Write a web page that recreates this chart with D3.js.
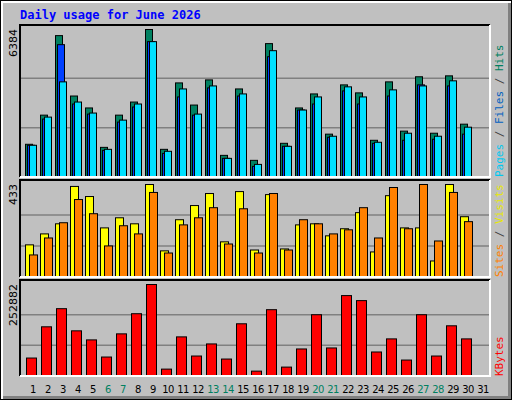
<!DOCTYPE html>
<html>
<head>
<script src="https://cdn.jsdelivr.net/npm/d3@7"></script>
<style>body{margin:0;background:#fff}</style>
</head>
<body>
<script>
var days = d3.range(1, 32);
var weekend = [6, 7, 13, 14, 20, 21, 27, 28];
var hits  = [1433,2690,6120,3515,3000,1300,2690,3255,6384,1215,4080,3125,4210,955,3820,740,5775,1475,3000,3605,1870,3995,3650,1605,4125,2000,4345,1910,4385,2300];
var files = [1390,2520,5730,3170,2735,1170,2390,3040,5860,1040,3475,2690,3865,825,3515,480,5210,1345,2910,3170,1735,3735,3170,1475,3515,1605,3995,1650,3950,1870];
var pages = [1390,2605,4125,3255,2780,1215,2475,3170,5860,1130,3820,2735,3950,825,3605,565,5470,1345,2910,3475,1780,3910,3475,1520,3780,1910,3950,1780,4170,2170];
var visits = [152,203,250,424,377,231,278,250,433,124,269,335,391,166,400,128,386,133,245,250,194,227,302,119,381,231,231,77,433,283];
var sites  = [105,184,255,363,297,147,241,203,396,114,245,278,325,156,320,114,391,128,269,250,203,222,325,184,419,227,433,170,396,260];
var kbytes = [50760,136590,186430,125520,100600,53530,117210,172590,252882,20300,108900,56300,89520,47990,144900,14770,183660,25840,75680,169820,78450,222420,208580,67370,103370,45220,169820,56300,139360,103370];

var W = 512, H = 400;
var svg = d3.select('body').append('svg').attr('width', W).attr('height', H)
  .style('font-family', 'DejaVu Sans Mono, monospace');

// frame
svg.append('rect').attr('x', 0).attr('y', 0).attr('width', W).attr('height', H).attr('fill', '#000');
svg.append('rect').attr('x', 1).attr('y', 1).attr('width', W - 2).attr('height', H - 2).attr('fill', '#fff');
svg.append('rect').attr('x', 3).attr('y', 3).attr('width', W - 4).attr('height', H - 4).attr('fill', '#808080');
svg.append('rect').attr('x', 3).attr('y', 3).attr('width', W - 7).attr('height', H - 7).attr('fill', '#c0c0c0');

svg.append('text').attr('x', 20).attr('y', 19).attr('fill', '#0000ff')
  .style('font-size', '12px').style('font-weight', 'bold').text('Daily usage for June 2026');

var x = d3.scaleLinear().domain([1, 2]).range([25, 40]);
var L = 20, R = 490;

function panel(y0, y1, top, max, series, label, labels) {
  var y = d3.scaleLinear().domain([0, max]).range([y1, top]);
  var g = svg.append('g');
  [1 / 3, 2 / 3].forEach(function (f) {
    g.append('line').attr('x1', L).attr('x2', R).attr('y1', y(max * f)).attr('y2', y(max * f))
      .attr('stroke', '#808080').attr('stroke-width', 1.5);
  });
  series.forEach(function (s) {
    g.selectAll(null).data(s.values).enter().append('rect')
      .attr('x', function (d, i) { return x(i + 1) + s.off + 0.5; })
      .attr('y', function (d) { return y(d) + 0.5; })
      .attr('width', s.w)
      .attr('height', function (d) { return y1 - y(d); })
      .attr('fill', s.color).attr('stroke', '#000').attr('stroke-width', 1);
  });
  g.append('path').attr('d', 'M' + L + ',' + y1 + 'V' + y0 + 'H' + R)
    .attr('fill', 'none').attr('stroke', '#000').attr('stroke-width', 2);
  g.append('path').attr('d', 'M' + R + ',' + y0 + 'V' + y1 + 'H' + L)
    .attr('fill', 'none').attr('stroke', '#fff').attr('stroke-width', 2);
  g.append('text').attr('transform', 'translate(17,' + top + ') rotate(-90)')
    .attr('text-anchor', 'end').style('font-size', '11px').style('font-family', 'DejaVu Sans')
    .attr('fill', '#000').text(label);
  // right labels read bottom-to-top
  var t = g.append('text').attr('transform', 'translate(503,' + y1 + ') rotate(-90)')
    .style('font-size', '11px');
  labels.forEach(function (l, i) {
    if (i) t.append('tspan').attr('fill', '#404040').text(' / ');
    t.append('tspan').attr('fill', l[1]).text(l[0]);
  });
}

panel(25, 177, 29, 6384, [
  { values: hits, color: '#008060', off: 0, w: 7 },
  { values: files, color: '#0040ff', off: 2, w: 7 },
  { values: pages, color: '#00e0ff', off: 4, w: 7 }
], '6384', [['Pages', '#00c8f0'], ['Files', '#0060c0'], ['Hits', '#008060']]);

panel(180, 277, 184, 433, [
  { values: visits, color: '#ffff00', off: 0, w: 8 },
  { values: sites, color: '#ff8000', off: 4, w: 8 }
], '433', [['Sites', '#ff8000'], ['Visits', '#e8e800']]);

panel(280, 376, 284, 252882, [
  { values: kbytes, color: '#ff0000', off: 1, w: 10 }
], '252882', [['KBytes', '#ff0000']]);

svg.selectAll('text.day').data(days).enter().append('text').attr('class', 'day')
  .attr('x', function (d) { return x(d) + 8; }).attr('y', 393)
  .attr('text-anchor', 'middle').style('font-size', '10px').style('font-family', 'DejaVu Sans')
  .style('letter-spacing', '-0.5px')
  .attr('fill', function (d) { return weekend.indexOf(d) >= 0 ? '#008060' : '#000'; })
  .text(function (d) { return d; });
</script>
</body>
</html>
